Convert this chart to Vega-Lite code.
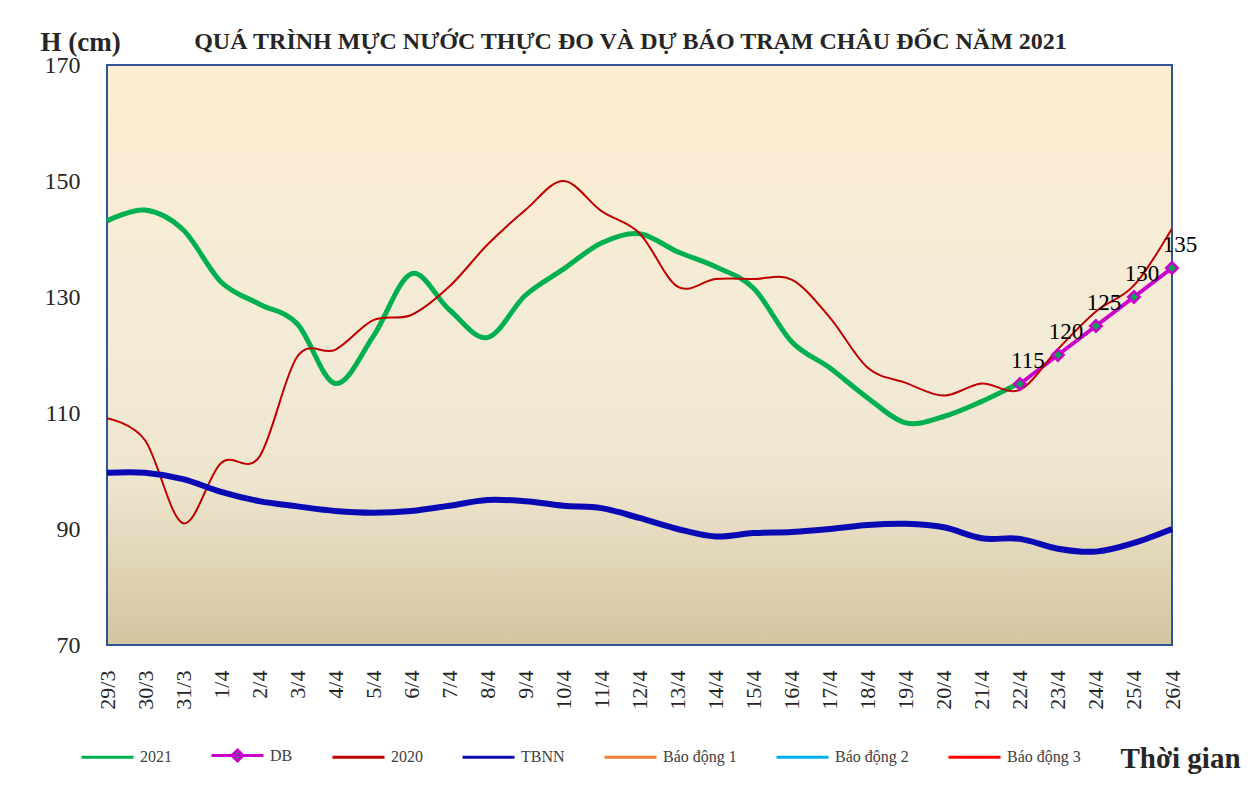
{
  "$schema": "https://vega.github.io/schema/vega-lite/v6.json",
  "width": 1065,
  "height": 580,
  "autosize": "none",
  "padding": {"left": 107, "top": 65, "right": 81, "bottom": 156},
  "background": "white",
  "title": {
    "text": "QUÁ TRÌNH MỰC NƯỚC THỰC ĐO VÀ DỰ BÁO TRẠM CHÂU ĐỐC NĂM  2021",
    "anchor": "middle",
    "frame": "group",
    "font": "Liberation Serif",
    "fontSize": 24,
    "fontWeight": "bold",
    "color": "#262626",
    "offset": 12,
    "dx": -9,
    "dy": 38
  },
  "datasets": {
    "levels": [
      {"ngay": "29/3", "chuoi": "2021", "h": 143.1},
      {"ngay": "30/3", "chuoi": "2021", "h": 145.0},
      {"ngay": "31/3", "chuoi": "2021", "h": 141.6},
      {"ngay": "1/4", "chuoi": "2021", "h": 132.6},
      {"ngay": "2/4", "chuoi": "2021", "h": 128.8},
      {"ngay": "3/4", "chuoi": "2021", "h": 125.4},
      {"ngay": "4/4", "chuoi": "2021", "h": 115.1},
      {"ngay": "5/4", "chuoi": "2021", "h": 123.2},
      {"ngay": "6/4", "chuoi": "2021", "h": 134.0},
      {"ngay": "7/4", "chuoi": "2021", "h": 127.8},
      {"ngay": "8/4", "chuoi": "2021", "h": 123.0},
      {"ngay": "9/4", "chuoi": "2021", "h": 130.3},
      {"ngay": "10/4", "chuoi": "2021", "h": 134.8},
      {"ngay": "11/4", "chuoi": "2021", "h": 139.3},
      {"ngay": "12/4", "chuoi": "2021", "h": 140.9},
      {"ngay": "13/4", "chuoi": "2021", "h": 137.8},
      {"ngay": "14/4", "chuoi": "2021", "h": 135.2},
      {"ngay": "15/4", "chuoi": "2021", "h": 131.5},
      {"ngay": "16/4", "chuoi": "2021", "h": 122.3},
      {"ngay": "17/4", "chuoi": "2021", "h": 117.8},
      {"ngay": "18/4", "chuoi": "2021", "h": 112.6},
      {"ngay": "19/4", "chuoi": "2021", "h": 108.3},
      {"ngay": "20/4", "chuoi": "2021", "h": 109.4},
      {"ngay": "21/4", "chuoi": "2021", "h": 112.0},
      {"ngay": "22/4", "chuoi": "2021", "h": 115.2},
      {"ngay": "22/4", "chuoi": "DB", "h": 115},
      {"ngay": "23/4", "chuoi": "DB", "h": 120},
      {"ngay": "24/4", "chuoi": "DB", "h": 125},
      {"ngay": "25/4", "chuoi": "DB", "h": 130},
      {"ngay": "26/4", "chuoi": "DB", "h": 135},
      {"ngay": "29/3", "chuoi": "2020", "h": 109.1},
      {"ngay": "30/3", "chuoi": "2020", "h": 105.3},
      {"ngay": "31/3", "chuoi": "2020", "h": 91.0},
      {"ngay": "1/4", "chuoi": "2020", "h": 101.4},
      {"ngay": "2/4", "chuoi": "2020", "h": 102.4},
      {"ngay": "3/4", "chuoi": "2020", "h": 119.7},
      {"ngay": "4/4", "chuoi": "2020", "h": 120.9},
      {"ngay": "5/4", "chuoi": "2020", "h": 126.0},
      {"ngay": "6/4", "chuoi": "2020", "h": 126.9},
      {"ngay": "7/4", "chuoi": "2020", "h": 131.8},
      {"ngay": "8/4", "chuoi": "2020", "h": 139.0},
      {"ngay": "9/4", "chuoi": "2020", "h": 145.0},
      {"ngay": "10/4", "chuoi": "2020", "h": 150.0},
      {"ngay": "11/4", "chuoi": "2020", "h": 144.8},
      {"ngay": "12/4", "chuoi": "2020", "h": 141.0},
      {"ngay": "13/4", "chuoi": "2020", "h": 131.8},
      {"ngay": "14/4", "chuoi": "2020", "h": 133.1},
      {"ngay": "15/4", "chuoi": "2020", "h": 133.1},
      {"ngay": "16/4", "chuoi": "2020", "h": 133.0},
      {"ngay": "17/4", "chuoi": "2020", "h": 126.5},
      {"ngay": "18/4", "chuoi": "2020", "h": 117.8},
      {"ngay": "19/4", "chuoi": "2020", "h": 115.2},
      {"ngay": "20/4", "chuoi": "2020", "h": 113.0},
      {"ngay": "21/4", "chuoi": "2020", "h": 115.1},
      {"ngay": "22/4", "chuoi": "2020", "h": 114.0},
      {"ngay": "23/4", "chuoi": "2020", "h": 121.0},
      {"ngay": "24/4", "chuoi": "2020", "h": 127.5},
      {"ngay": "25/4", "chuoi": "2020", "h": 132.0},
      {"ngay": "26/4", "chuoi": "2020", "h": 141.8},
      {"ngay": "29/3", "chuoi": "TBNN", "h": 99.7},
      {"ngay": "30/3", "chuoi": "TBNN", "h": 99.7},
      {"ngay": "31/3", "chuoi": "TBNN", "h": 98.6},
      {"ngay": "1/4", "chuoi": "TBNN", "h": 96.4},
      {"ngay": "2/4", "chuoi": "TBNN", "h": 94.8},
      {"ngay": "3/4", "chuoi": "TBNN", "h": 93.9},
      {"ngay": "4/4", "chuoi": "TBNN", "h": 93.1},
      {"ngay": "5/4", "chuoi": "TBNN", "h": 92.8},
      {"ngay": "6/4", "chuoi": "TBNN", "h": 93.1},
      {"ngay": "7/4", "chuoi": "TBNN", "h": 94.0},
      {"ngay": "8/4", "chuoi": "TBNN", "h": 95.0},
      {"ngay": "9/4", "chuoi": "TBNN", "h": 94.8},
      {"ngay": "10/4", "chuoi": "TBNN", "h": 94.0},
      {"ngay": "11/4", "chuoi": "TBNN", "h": 93.6},
      {"ngay": "12/4", "chuoi": "TBNN", "h": 91.9},
      {"ngay": "13/4", "chuoi": "TBNN", "h": 90.0},
      {"ngay": "14/4", "chuoi": "TBNN", "h": 88.7},
      {"ngay": "15/4", "chuoi": "TBNN", "h": 89.3},
      {"ngay": "16/4", "chuoi": "TBNN", "h": 89.5},
      {"ngay": "17/4", "chuoi": "TBNN", "h": 90.0},
      {"ngay": "18/4", "chuoi": "TBNN", "h": 90.7},
      {"ngay": "19/4", "chuoi": "TBNN", "h": 90.9},
      {"ngay": "20/4", "chuoi": "TBNN", "h": 90.3},
      {"ngay": "21/4", "chuoi": "TBNN", "h": 88.4},
      {"ngay": "22/4", "chuoi": "TBNN", "h": 88.3},
      {"ngay": "23/4", "chuoi": "TBNN", "h": 86.6},
      {"ngay": "24/4", "chuoi": "TBNN", "h": 86.1},
      {"ngay": "25/4", "chuoi": "TBNN", "h": 87.6},
      {"ngay": "26/4", "chuoi": "TBNN", "h": 90.0}
    ]
  },
  "data": {"name": "levels"},
  "encoding": {
    "x": {
      "field": "ngay",
      "type": "nominal",
      "scale": {
        "type": "point",
        "padding": 0,
        "domain": ["29/3","30/3","31/3","1/4","2/4","3/4","4/4","5/4","6/4","7/4","8/4","9/4","10/4","11/4","12/4","13/4","14/4","15/4","16/4","17/4","18/4","19/4","20/4","21/4","22/4","23/4","24/4","25/4","26/4"]
      },
      "axis": {
        "title": "Thời gian",
        "titleFont": "Liberation Serif",
        "titleFontSize": 29,
        "titleFontWeight": "bold",
        "titleColor": "#262626",
        "titleAngle": 0,
        "titleAlign": "left",
        "titleBaseline": "alphabetic",
        "titleAnchor": "start",
        "titleX": 1013,
        "titleY": 122,
        "labelAngle": -90,
        "labelFont": "Liberation Serif",
        "labelFontSize": 22,
        "labelColor": "#262626",
        "labelPadding": 25,
        "ticks": false,
        "domain": false,
        "grid": false
      }
    },
    "y": {
      "field": "h",
      "type": "quantitative",
      "scale": {"domain": [70, 170], "nice": false, "zero": false},
      "axis": {
        "title": "H (cm)",
        "titleFont": "Liberation Serif",
        "titleFontSize": 27,
        "titleFontWeight": "bold",
        "titleColor": "#262626",
        "titleAngle": 0,
        "titleAlign": "left",
        "titleBaseline": "alphabetic",
        "titleX": -67,
        "titleY": -15,
        "values": [70, 90, 110, 130, 150, 170],
        "labelFont": "Liberation Serif",
        "labelFontSize": 24,
        "labelColor": "#262626",
        "labelPadding": 27,
        "ticks": false,
        "domain": false,
        "grid": false
      }
    },
    "color": {
      "field": "chuoi",
      "type": "nominal",
      "scale": {
        "domain": ["2021", "DB", "2020", "TBNN", "Báo động 1", "Báo động 2", "Báo động 3"],
        "range": ["#00B050", "#CC00CC", "#C00000", "#0A0AB4", "#ED7D31", "#00B0F0", "#FF0000"]
      },
      "legend": {
        "symbolFillColor": "#00A651",
        "encode": {
          "symbols": {
            "update": {
              "shape": {"signal": "datum.value === 'DB' ? 'M-1,0L1,0M0,-0.21L0.21,0L0,0.21L-0.21,0Z' : 'stroke'"},
              "fill": {"value": "#00A651"}
            }
          }
        }
      }
    }
  },
  "layer": [
    {
      "transform": [{"filter": "datum.chuoi === '2021'"}],
      "mark": {"type": "line", "interpolate": "cardinal", "strokeWidth": 5}
    },
    {
      "transform": [{"filter": "datum.chuoi === 'DB'"}],
      "mark": {"type": "line", "strokeWidth": 4}
    },
    {
      "transform": [{"filter": "datum.chuoi === '2020'"}],
      "mark": {"type": "line", "interpolate": "cardinal", "strokeWidth": 2}
    },
    {
      "transform": [{"filter": "datum.chuoi === 'DB'"}],
      "mark": {"type": "point", "shape": "diamond", "filled": true, "fill": "#00A651", "stroke": "#CC00CC", "strokeWidth": 2.5, "size": 130, "opacity": 1},
      "encoding": {"color": {"value": "#00A651"}}
    },
    {
      "transform": [{"filter": "datum.chuoi === 'TBNN'"}],
      "mark": {"type": "line", "interpolate": "cardinal", "strokeWidth": 6}
    },
    {
      "transform": [{"filter": "datum.chuoi === 'DB'"}],
      "mark": {"type": "text", "font": "Liberation Serif", "fontSize": 23, "align": "center", "baseline": "alphabetic", "dx": 8, "dy": -16},
      "encoding": {
        "text": {"field": "h", "type": "quantitative", "format": "d"},
        "color": {"value": "#000000"}
      }
    }
  ],
  "config": {
    "view": {
      "stroke": "#2F5496",
      "strokeWidth": 2,
      "fill": {
        "gradient": "linear",
        "x1": 0, "y1": 0, "x2": 0, "y2": 1,
        "stops": [
          {"offset": 0, "color": "#FDEED1"},
          {"offset": 0.5, "color": "#F3EBD7"},
          {"offset": 0.72, "color": "#EEE5CE"},
          {"offset": 1, "color": "#D4C5A0"}
        ]
      }
    },
    "legend": {
      "orient": "none",
      "legendX": -27,
      "legendY": 663,
      "direction": "horizontal",
      "columns": 7,
      "columnPadding": 33,
      "padding": 0,
      "title": null,
      "symbolType": "stroke",
      "symbolSize": 2704,
      "symbolStrokeWidth": 3,
      "labelFont": "Liberation Serif",
      "labelFontSize": 16,
      "labelColor": "#404040",
      "labelOffset": 5
    }
  }
}
